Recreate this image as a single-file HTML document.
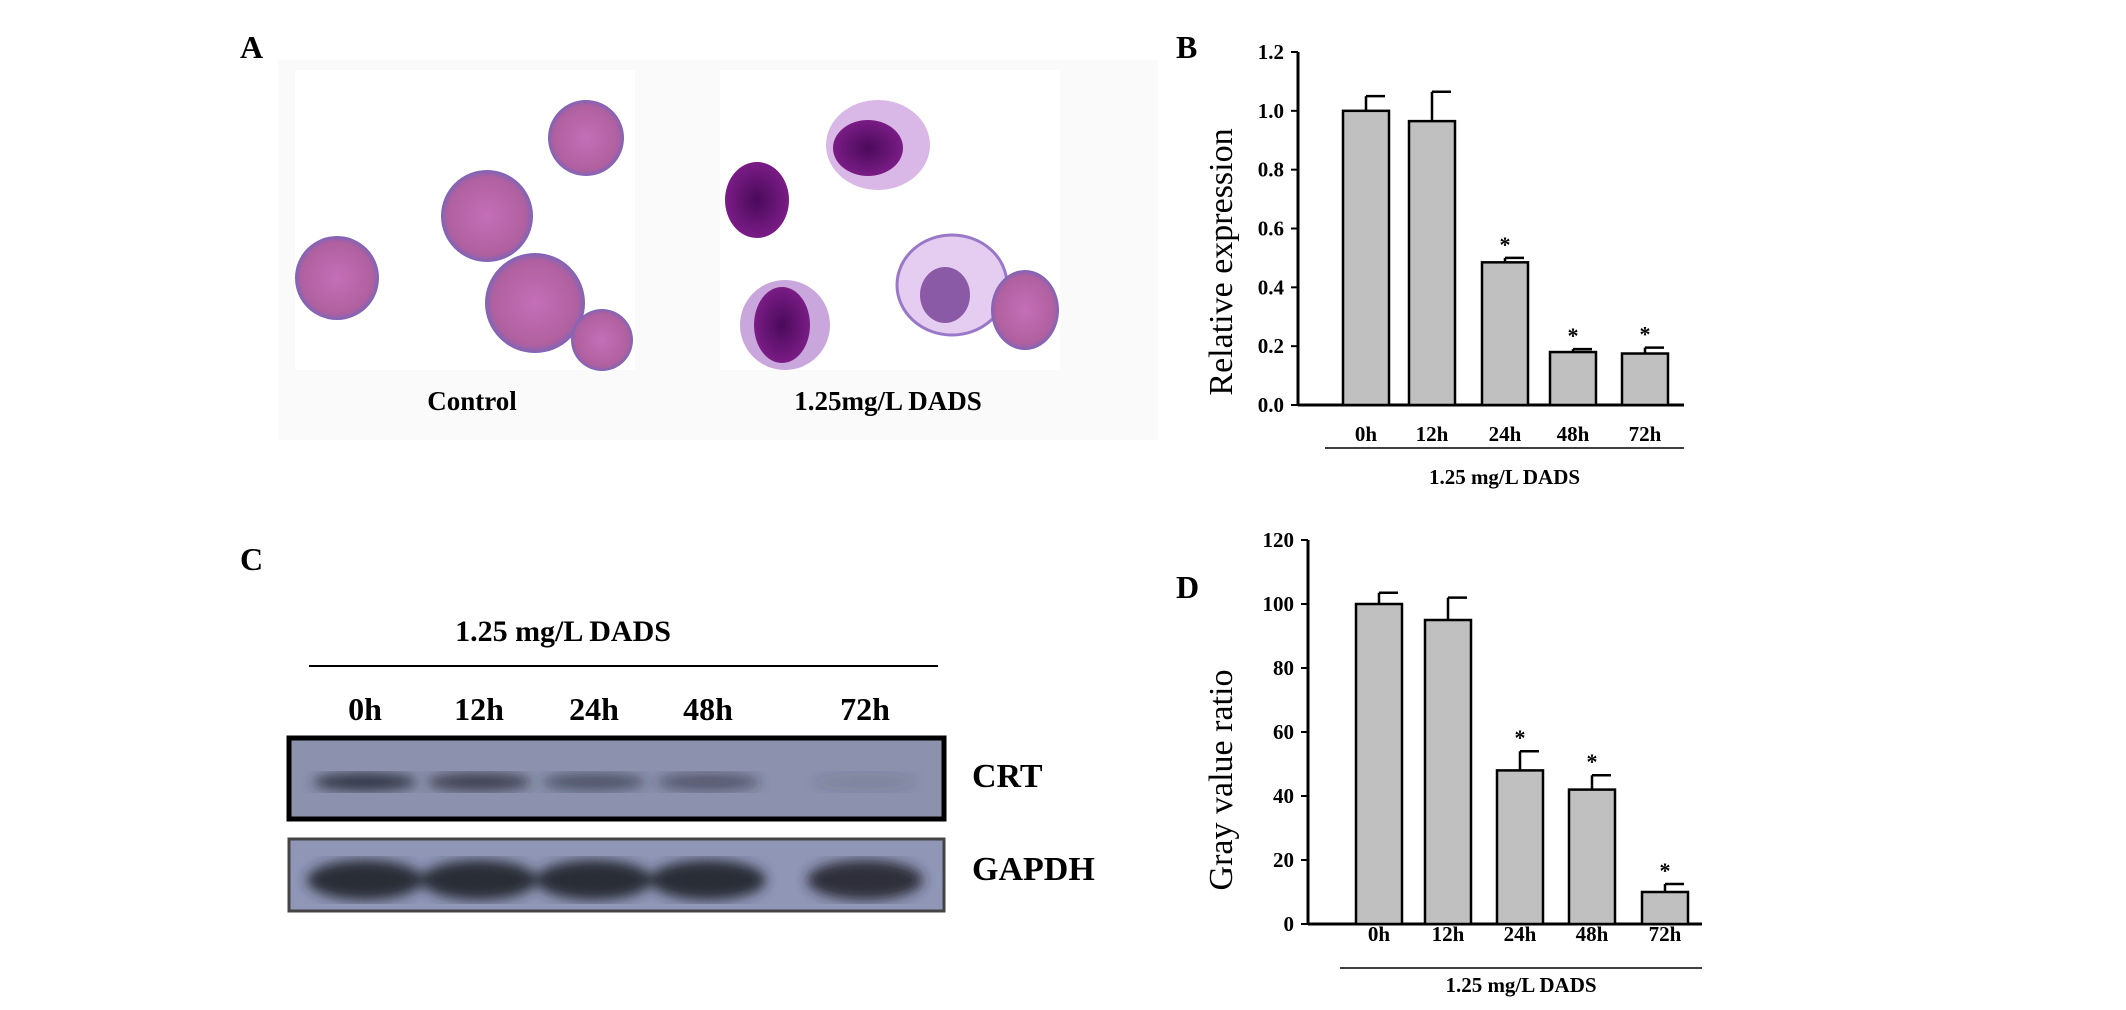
<!DOCTYPE html>
<html><head><meta charset="utf-8"><style>
html,body{margin:0;padding:0;background:#fff;}
svg{display:block;font-family:"Liberation Serif",serif;}
</style></head><body>
<svg id="fig" width="2126" height="1010" viewBox="0 0 2126 1010">
<defs>
<radialGradient id="cellg" cx="50%" cy="50%" r="50%"><stop offset="0" stop-color="#c46fb8"/><stop offset="0.85" stop-color="#b0609f"/><stop offset="1" stop-color="#7e64b8"/></radialGradient>
<radialGradient id="nucg" cx="50%" cy="50%" r="50%"><stop offset="0" stop-color="#4a0a5a"/><stop offset="1" stop-color="#7a1c86"/></radialGradient>
<filter id="blur"><feGaussianBlur stdDeviation="6"/></filter>
</defs>
<g>
<rect x="278" y="60" width="880" height="380" fill="#fafafa"/>
<rect x="295" y="70" width="340" height="300" fill="#fff"/>
<rect x="720" y="70" width="340" height="300" fill="#fff"/>
<g>
<circle cx="337" cy="278" r="42" fill="url(#cellg)"/>
<circle cx="487" cy="216" r="46" fill="url(#cellg)"/>
<circle cx="586" cy="138" r="38" fill="url(#cellg)"/>
<circle cx="535" cy="303" r="50" fill="url(#cellg)"/>
<circle cx="602" cy="340" r="31" fill="url(#cellg)"/>
</g>
<g>
<ellipse cx="878" cy="145" rx="52" ry="45" fill="#d9b8e8"/><ellipse cx="868" cy="148" rx="35" ry="28" fill="url(#nucg)"/>
<ellipse cx="757" cy="200" rx="32" ry="38" fill="url(#nucg)"/>
<ellipse cx="785" cy="325" rx="45" ry="45" fill="#c9a6dc"/><ellipse cx="782" cy="325" rx="28" ry="38" fill="url(#nucg)"/>
<ellipse cx="952" cy="285" rx="55" ry="50" fill="#e4cdf0" stroke="#9a78c8" stroke-width="3"/><ellipse cx="945" cy="295" rx="25" ry="28" fill="#8a5aa6"/>
<ellipse cx="1025" cy="310" rx="34" ry="40" fill="url(#cellg)"/>
</g>
<text x="472" y="410" font-size="27" font-weight="bold" text-anchor="middle">Control</text>
<text x="888" y="410" font-size="27" font-weight="bold" text-anchor="middle">1.25mg/L DADS</text>
</g>
<text x="240" y="58" font-size="32" font-weight="bold">A</text>
<text x="1176" y="58" font-size="32" font-weight="bold">B</text>
<text x="240" y="570" font-size="32" font-weight="bold">C</text>
<text x="1176" y="598" font-size="32" font-weight="bold">D</text>

<g>
<text x="563" y="641" font-size="30" font-weight="bold" text-anchor="middle">1.25 mg/L DADS</text>
<line x1="309" y1="666" x2="938" y2="666" stroke="#000" stroke-width="2"/>
<g id="lanes" font-size="32" font-weight="bold" text-anchor="middle"></g>
<rect x="289" y="738" width="655" height="81" fill="#8c92ae" stroke="#000" stroke-width="5"/>
<g id="crtBands" filter="url(#blur)"></g>
<rect x="289" y="839" width="655" height="72" fill="#8f96b6" stroke="#444" stroke-width="3"/>
<g id="gapdhBands" filter="url(#blur)"></g>
<text x="972" y="787" font-size="34" font-weight="bold">CRT</text>
<text x="972" y="880" font-size="34" font-weight="bold">GAPDH</text>
</g>
<g id="chartB"></g>
<g id="chartD"></g>
</svg>
<script>
const NS="http://www.w3.org/2000/svg";
const categories=["0h","12h","24h","48h","72h"];
const bValues=[1.0,0.965,0.485,0.18,0.175];
const bErrors=[0.05,0.1,0.015,0.01,0.02];
const bSig=[false,false,true,true,true];
const bTicks=["0.0","0.2","0.4","0.6","0.8","1.0","1.2"];
const dValues=[100,95,48,42,10];
const dErrors=[3.5,7,6,4.5,2.5];
const dSig=[false,false,true,true,true];
const dTicks=["0","20","40","60","80","100","120"];
const crtIntensity=[0.9,0.8,0.6,0.55,0.15];
const gapdhIntensity=[0.95,0.95,0.95,0.95,0.9];

function el(tag,attrs,parent,txt){const e=document.createElementNS(NS,tag);for(const k in attrs)e.setAttribute(k,attrs[k]);if(txt!=null)e.textContent=txt;parent.appendChild(e);return e;}

const laneX=[365,479,594,708,865];
const lanes=document.getElementById('lanes');
const crtB=document.getElementById('crtBands');
const gB=document.getElementById('gapdhBands');
categories.forEach((c,i)=>{
  const t=el('text',{x:laneX[i],y:720},lanes,c);
  
  
  const b=el('ellipse',{cx:laneX[i],cy:782,rx:52,ry:9,fill:'#2a2c3a','fill-opacity':crtIntensity[i]},crtB);
  
  
  const g=el('ellipse',{cx:laneX[i],cy:880,rx:58,ry:20,fill:'#25262f','fill-opacity':gapdhIntensity[i]},gB);
  
  
});

function chart(gid,cfg){
  const g=document.getElementById(gid);
  const {ax,y0,yTop,max,x0,x1,centers,vals,errs,sig,ticks,title,titleX,labY,lineY,textY,bw}=cfg;
  const ys=v=>y0-(v/max)*(y0-yTop);
  const yl=el('line',{x1:ax,y1:yTop,x2:ax,y2:y0,stroke:'#000','stroke-width':3},g);
  
  
  const xl=el('line',{x1:ax,y1:y0,x2:x1,y2:y0,stroke:'#000','stroke-width':3},g);
  
  
  ticks.forEach((t,i)=>{
    const v=max*i/(ticks.length-1);const y=ys(v);
    el('line',{x1:ax-7,y1:y,x2:ax,y2:y,stroke:'#000','stroke-width':2},g);
    const tt=el('text',{x:ax-14,y:y+7,'font-size':21,'font-weight':'bold','text-anchor':'end'},g,t);
    
    
  });
  categories.forEach((c,i)=>{
    const cx=centers[i],v=vals[i],e=errs[i];
    const r=el('rect',{x:cx-bw/2,y:ys(v),width:bw,height:y0-ys(v),fill:'#c0c0c0',stroke:'#000','stroke-width':2.5},g);
    
    
    const eb=el('path',{d:`M${cx} ${ys(v)}V${ys(v+e)}M${cx} ${ys(v+e)}H${cx+bw/2-4}`,stroke:'#000','stroke-width':2.5,fill:'none'},g);
    
    
    if(sig[i]){
      const s=el('text',{x:cx,y:ys(v+e)-6,'font-size':22,'font-weight':'bold','text-anchor':'middle'},g,'*');
      
      
    }
    const l=el('text',{x:cx,y:labY,'font-size':21,'font-weight':'bold','text-anchor':'middle'},g,c);
    
    
  });
  const gl=el('line',{x1:x0,y1:lineY,x2:x1,y2:lineY,stroke:'#000','stroke-width':1.5},g);
  
  
  const gt=el('text',{x:(x0+x1)/2,y:textY,'font-size':21,'font-weight':'bold','text-anchor':'middle'},g,'1.25 mg/L DADS');
  
  
  const ty=el('text',{x:0,y:0,'font-size':34,'text-anchor':'middle',transform:`translate(${titleX},${cfg.titleY}) rotate(-90)`},g,title);
  
  
}
chart('chartB',{ax:1298,y0:405,yTop:52,max:1.2,x0:1325,x1:1684,centers:[1366,1432,1505,1573,1645],vals:bValues,errs:bErrors,sig:bSig,ticks:bTicks,title:'Relative expression',titleX:1232,titleY:262,labY:441,lineY:448,textY:484,bw:46});
chart('chartD',{ax:1308,y0:924,yTop:540,max:120,x0:1340,x1:1702,centers:[1379,1448,1520,1592,1665],vals:dValues,errs:dErrors,sig:dSig,ticks:dTicks,title:'Gray value ratio',titleX:1232,titleY:780,labY:941,lineY:968,textY:992,bw:46});
</script>
</body></html>
